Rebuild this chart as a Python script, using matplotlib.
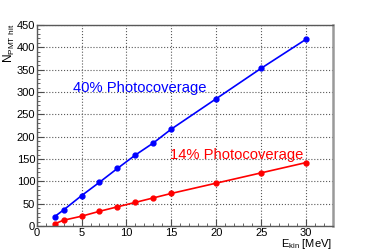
import matplotlib
matplotlib.use("Agg")
import matplotlib.pyplot as plt
from matplotlib.ticker import MultipleLocator

# --- data ---
e_kin = [2, 3, 5, 7, 9, 11, 13, 15, 20, 25, 30]
hits_40 = [21, 36, 68, 98, 129, 159, 186, 217, 285, 353, 418]
hits_14 = [5, 13, 22, 33, 43, 53, 63, 73, 96, 119, 142]

plt.rcParams['font.family'] = ['Liberation Sans', 'DejaVu Sans']

fig = plt.figure(figsize=(3.7, 2.52), dpi=100)
ax = fig.add_axes([0.099, 0.103, 0.801, 0.798])

ax.plot(e_kin, hits_40, color='#0000ff', lw=1.2, marker='o', ms=3.5)
ax.plot(e_kin, hits_14, color='#ff0000', lw=1.2, marker='o', ms=3.5)

ax.set_xlim(0, 33)
ax.set_ylim(0, 450)
ax.xaxis.set_major_locator(MultipleLocator(5))
ax.xaxis.set_minor_locator(MultipleLocator(1))
ax.yaxis.set_major_locator(MultipleLocator(50))
ax.yaxis.set_minor_locator(MultipleLocator(10))

ax.grid(True, which='major', color='0.35', linestyle=':', lw=0.8)
ax.tick_params(which='both', direction='in', top=False, right=False,
               labelsize=8, color='0.3')
ax.tick_params(axis='y', pad=1)
ax.tick_params(axis='x', pad=1.5)
ax.tick_params(which='major', length=5)
ax.tick_params(which='minor', length=2.5)
for s in ax.spines.values():
    s.set_color('0.35')
    s.set_linewidth(1.0)
ax.spines['right'].set_color('0.6')
ax.spines['right'].set_linewidth(1.8)

ax.text(4.05, 309, '40% Photocoverage', color='#0000ff', fontsize=10.6, va='center')
ax.text(14.85, 159, '14% Photocoverage', color='#ff0000', fontsize=10.6, va='center')

# axis titles placed ROOT-style: x title under the right end, y title at the top
fig.text(332 / 370, 1 - 247 / 252, r'E$_{\mathregular{kin}}$ [MeV]', fontsize=8,
         ha='right', va='baseline')
fig.text(2 / 370, 1 - 24 / 252, r'N$_{\mathregular{PMT\ hit}}$', fontsize=8.5,
         rotation=90, ha='left', va='top')

fig.savefig('out.png', dpi=100)
